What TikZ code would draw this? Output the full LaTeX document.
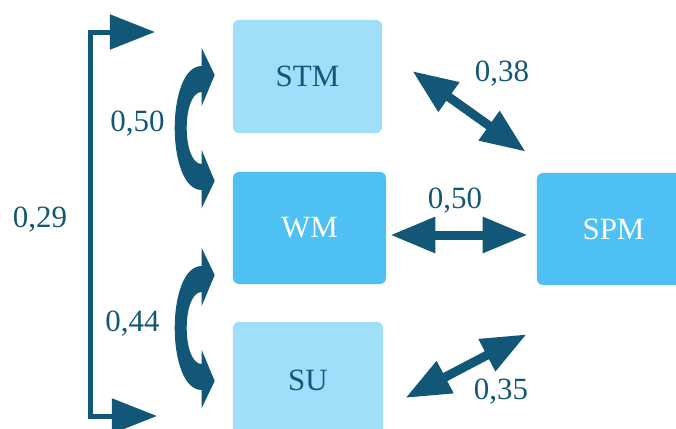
\documentclass[tikz,border=0pt]{standalone}
\usepackage{fontspec}
\setmainfont{Liberation Serif}
\usepackage{tikz}
\usetikzlibrary{arrows.meta}
\usetikzlibrary{calc}

\definecolor{arrowblue}{RGB}{19,87,120}
\definecolor{paleblue}{RGB}{160,222,250}
\definecolor{midblue}{RGB}{78,192,244}

\tikzset{
	membox/.style={rounded corners=0.15cm, inner sep=0pt, font=\fontsize{22}{26}\selectfont},
	lightbox/.style={membox, fill=paleblue, text=arrowblue},
	darkbox/.style={membox, fill=midblue, text=white},
	corr/.style={text=arrowblue, inner sep=0pt, font=\fontsize{22}{26}\selectfont},
	bigtip/.tip={Triangle[length=1.125cm, width=0.85cm]},
	link/.style={draw=arrowblue, line width=0.225cm, bigtip-bigtip},
	% C-shaped double arrow, origin at the middle of its open side
	bendarrow/.pic={
		\fill[arrowblue] (0,-80) -- (13,-53) -- (0,-22) -- (0,-36)
			.. controls (-20,-36) and (-20,36) .. (0,36) -- (0,22) -- (13,53) -- (0,80) -- (0,62)
			.. controls (-36,62) and (-36,-62) .. (0,-62) -- cycle;
	}
}

\begin{document}
\begin{tikzpicture}[x=0.025cm, y=-0.025cm]
\useasboundingbox (0,0) rectangle (676,428);
\clip (0,0) rectangle (676,428);

% memory boxes
\node[lightbox, minimum width=3.725cm, minimum height=2.825cm] (STM) at (307.5,76.5) {STM};
\node[darkbox, minimum width=3.825cm, minimum height=2.8cm] (WM) at (309.5,228) {WM};
\node[lightbox, minimum width=3.75cm, minimum height=2.9cm] (SU) at (308,380) {SU};
\node[darkbox, minimum width=3.825cm, minimum height=2.8cm] (SPM) at (613.5,229) {SPM};

% free ends of the links
\coordinate (stmR) at ($(STM.east)+(30,-5.5)$);
\coordinate (spmA) at ($(SPM.north west)+(-11,-21)$);
\coordinate (wmR) at ($(WM.east)+(4,7)$);
\coordinate (spmB) at ($(SPM.west)+(-9,6)$);
\coordinate (suR) at ($(SU.east)+(22,18)$);
\coordinate (spmC) at ($(SPM.south west)+(-10,49)$);

\draw[link] (stmR) -- (spmA);
\draw[link] (wmR) -- (spmB);
\draw[link] (suR) -- (spmC);

\node[corr] (rA) at (502,74) {0,38};
\node[corr] (rB) at (455,201) {0,50};
\node[corr] (rC) at (501,392) {0,35};

% left side: bent arrows and the long bracket
\coordinate (bendTop) at ($(WM.west)+(-31,-100)$);
\coordinate (bendBot) at ($(WM.west)+(-31,100)$);
\pic at (bendTop) {bendarrow};
\pic at (bendBot) {bendarrow};

\node[corr] (rD) at (137.5,124) {0,50};
\node[corr] (rE) at (132.5,324) {0,44};

\coordinate (brTop) at (155,32);
\coordinate (brBot) at (157,416);
\draw[draw=arrowblue, line width=0.125cm, miter limit=10, bigtip-bigtip]
	(brTop) -- (90,32) -- (90,416) -- (brBot);
\node[corr] (rF) at (40,220) {0,29};

\end{tikzpicture}
\end{document}
